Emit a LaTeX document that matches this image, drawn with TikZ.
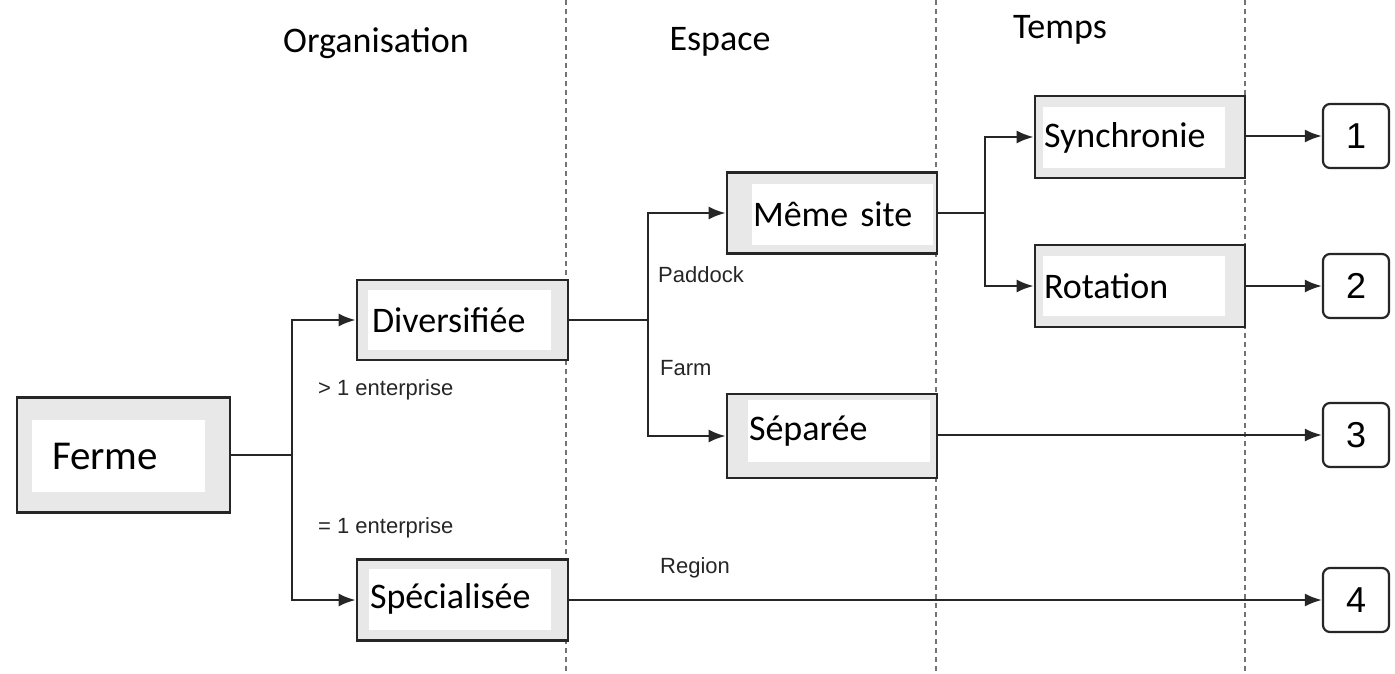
\documentclass[tikz,border=0pt]{standalone}
\usepackage{fontspec}
\setmainfont{Carlito}
\newfontfamily\arialfont{Liberation Sans}
\usetikzlibrary{arrows.meta}

\tikzset{
  outerbox/.style={draw=black!85, fill=black!9, line width=2.8pt, inner sep=0pt},
  innerbox/.style={fill=white, inner sep=0pt, align=left, font=\fontsize{36}{40}\selectfont},
  numbox/.style={draw=black!85, fill=white, rounded corners=7pt, line width=2.2pt,
    minimum width=66pt, minimum height=64pt, inner sep=0pt,
    font=\arialfont\fontsize{36}{38}\selectfont},
  smalllabel/.style={font=\arialfont\fontsize{22}{24}\selectfont, text=black!85, inner sep=0pt, anchor=west},
  heading/.style={font=\fontsize{36}{40}\selectfont},
  separator/.style={draw=black!55, line width=2.4pt, dash pattern=on 5pt off 4pt},
  link/.style={draw=black!85, line width=2.2pt},
}

\begin{document}
\begin{tikzpicture}[x=1pt,y=-1pt,>={Latex[length=17pt,width=13pt]}]
\useasboundingbox (0,0) rectangle (1395,673);

% column separators
\draw[separator] (566,0) -- (566,673);
\draw[separator] (936,0) -- (936,673);
\draw[separator] (1245,0) -- (1245,673);

% headings
\node[heading] (h1) at (376,43) {Organisation};
\node[heading] (h2) at (720,42) {Espace};
\node[heading] (h3) at (1060,30) {Temps};

% boxes
\node[outerbox, minimum width=213pt, minimum height=115pt] (ferme) at (123.5,455) {};
\node[innerbox, text width=133pt, inner xsep=20pt, minimum height=72pt, font=\fontsize{41}{44}\selectfont] (fermet) at (118.5,456) {Ferme};

\node[outerbox, minimum width=211pt, minimum height=80pt] (div) at (462.5,320) {};
\node[innerbox, text width=175pt, inner xsep=4pt, minimum height=60pt] (divt) at (459.5,320) {Diversifiée};

\node[outerbox, minimum width=211pt, minimum height=81pt] (spec) at (462.5,600) {};
\node[innerbox, text width=180pt, inner xsep=1pt, minimum height=61pt] (spect) at (460,599) {Spécialisée};

\node[outerbox, minimum width=210pt, minimum height=81pt] (meme) at (832,213) {};
\node[innerbox, text width=179pt, inner xsep=1pt, minimum height=61pt] (memet) at (842.5,214) {Même site};

\node[outerbox, minimum width=210pt, minimum height=84pt] (sep) at (832,436) {};
\node[innerbox, text width=180pt, inner xsep=1pt, minimum height=62pt] (sept) at (839,431) {Séparée};

\node[outerbox, minimum width=210pt, minimum height=82pt] (sync) at (1140,137) {};
\node[innerbox, text width=180pt, inner xsep=1pt, minimum height=61pt] (synct) at (1134,137.5) {Synchronie};

\node[outerbox, minimum width=210pt, minimum height=82pt] (rot) at (1140,286) {};
\node[innerbox, text width=180pt, inner xsep=1pt, minimum height=60pt] (rott) at (1134,286) {Rotation};

% outcomes
\node[numbox] (n1) at (1356,136) {1};
\node[numbox] (n2) at (1356,286) {2};
\node[numbox] (n3) at (1356,435) {3};
\node[numbox] (n4) at (1356,600) {4};

% branch points
\coordinate (b1) at (292,455);
\coordinate (b2) at (648,320);
\coordinate (b3) at (985,213);

% connectors
\draw[link] (ferme.east) -- (b1);
\draw[link,->] (b1) |- (div.west);
\draw[link,->] (b1) |- (spec.west);
\draw[link] (div.east) -- (b2);
\draw[link,->] (b2) |- (meme.west);
\draw[link,->] (b2) |- (sep.west);
\draw[link] (meme.east) -- (b3);
\draw[link,->] (b3) |- (sync.west);
\draw[link,->] (b3) |- (rot.west);
\draw[link,->] (sync.east |- n1) -- (n1.west);
\draw[link,->] (rot.east) -- (n2.west);
\draw[link,->] (sep.east |- n3) -- (n3.west);
\draw[link,->] (spec.east) -- (n4.west);

% branch labels
\node[smalllabel] (gt) at (318,390) {> 1 enterprise};
\node[smalllabel] (eq) at (318,528) {= 1 enterprise};
\node[smalllabel] (pad) at (658,275) {Paddock};
\node[smalllabel] (farm) at (660,368) {Farm};
\node[smalllabel] (reg) at (660,568) {Region};
\end{tikzpicture}
\end{document}
